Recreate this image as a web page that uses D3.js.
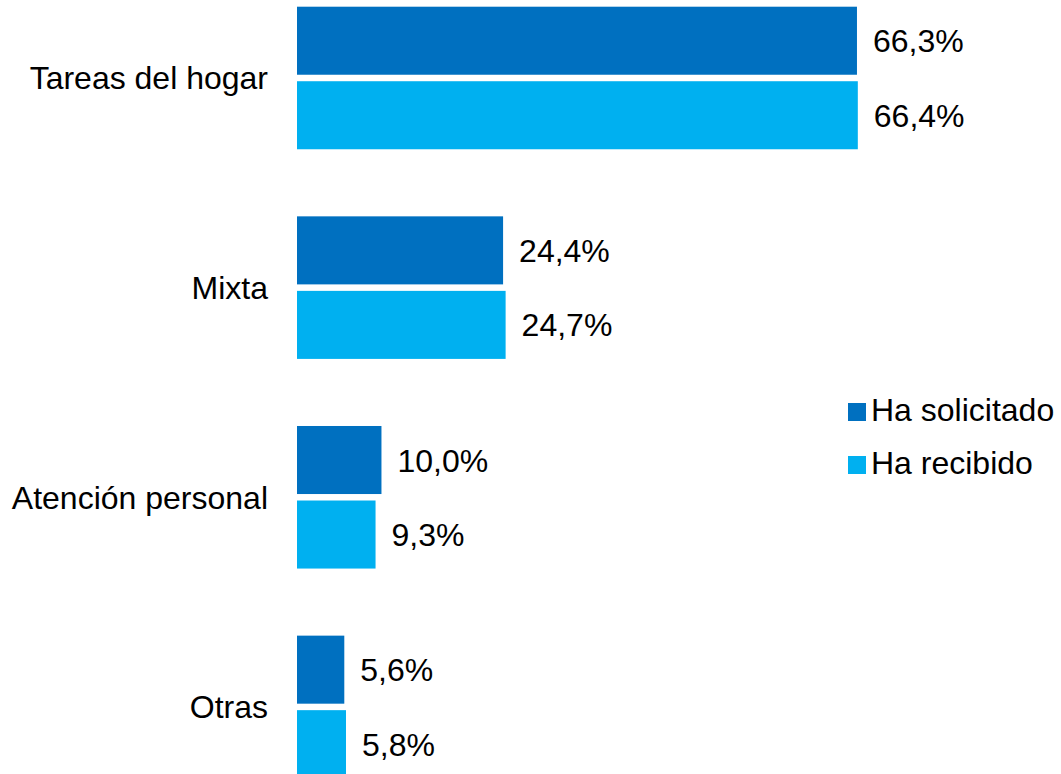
<!DOCTYPE html>
<html>
<head>
<meta charset="utf-8">
<script src="https://cdn.jsdelivr.net/npm/d3@7"></script>
<style>
  body { margin: 0; background: #fff; }
  svg text { font-family: "Liberation Sans", Arial, sans-serif; fill: #000; }
</style>
</head>
<body>
<div id="chart"></div>
<script>
var categories = ['Tareas del hogar', 'Mixta', 'Atención personal', 'Otras'];
var seriesNames = ['Ha solicitado', 'Ha recibido'];
var solicitado = [66.3, 24.4, 10.0, 5.6];
var recibido = [66.4, 24.7, 9.3, 5.8];
var colors = ['#0070C0', '#00B0F0'];

var svgWidth = 1061;
var svgHeight = 774;

var data = categories.map(function(c, i) {
  return { cat: c, values: [solicitado[i], recibido[i]] };
});

var xScale = d3.scaleLinear()
  .domain([0, 70])
  .range([297, 297 + 70 * 8.446]);

var yScale = d3.scaleBand()
  .domain(categories)
  .range([6.7, 778.2])
  .paddingInner(0.32)
  .paddingOuter(0);

var ySub = d3.scaleBand()
  .domain([0, 1])
  .range([0, yScale.bandwidth()])
  .paddingInner(0.087);

var fmt = function(v) { return v.toFixed(1).replace('.', ',') + '%'; };

var chart = d3.select('#chart')
  .append('svg')
  .attr('width', svgWidth)
  .attr('height', svgHeight);

// category labels
chart.append('g')
  .selectAll('text')
  .data(categories)
  .enter()
  .append('text')
  .attr('x', 268)
  .attr('y', function(d) { return yScale(d) + yScale.bandwidth() / 2; })
  .attr('dy', '0.36em')
  .attr('text-anchor', 'end')
  .style('font-size', '32px')
  .text(function(d) { return d; });

var groups = chart.append('g')
  .selectAll('g')
  .data(data)
  .enter()
  .append('g')
  .attr('transform', function(d) { return 'translate(0,' + yScale(d.cat) + ')'; });

groups.selectAll('rect')
  .data(function(d) { return d.values; })
  .enter()
  .append('rect')
  .attr('x', xScale(0))
  .attr('y', function(d, i) { return ySub(i); })
  .attr('width', function(d) { return xScale(d) - xScale(0); })
  .attr('height', ySub.bandwidth())
  .attr('fill', function(d, i) { return colors[i]; });

groups.selectAll('text')
  .data(function(d) { return d.values; })
  .enter()
  .append('text')
  .attr('x', function(d) { return xScale(d) + 16; })
  .attr('y', function(d, i) { return ySub(i) + ySub.bandwidth() / 2; })
  .attr('dy', '0.36em')
  .style('font-size', '32px')
  .text(fmt);

// legend
var legend = chart.append('g')
  .attr('transform', 'translate(848,403)');

var items = legend.selectAll('g')
  .data(seriesNames)
  .enter()
  .append('g')
  .attr('transform', function(d, i) { return 'translate(0,' + (i * 53) + ')'; });

items.append('rect')
  .attr('width', 18)
  .attr('height', 18)
  .attr('fill', function(d, i) { return colors[i]; });

items.append('text')
  .attr('x', 23)
  .attr('y', 18)
  .style('font-size', '32px')
  .text(function(d) { return d; });
</script>
</body>
</html>
